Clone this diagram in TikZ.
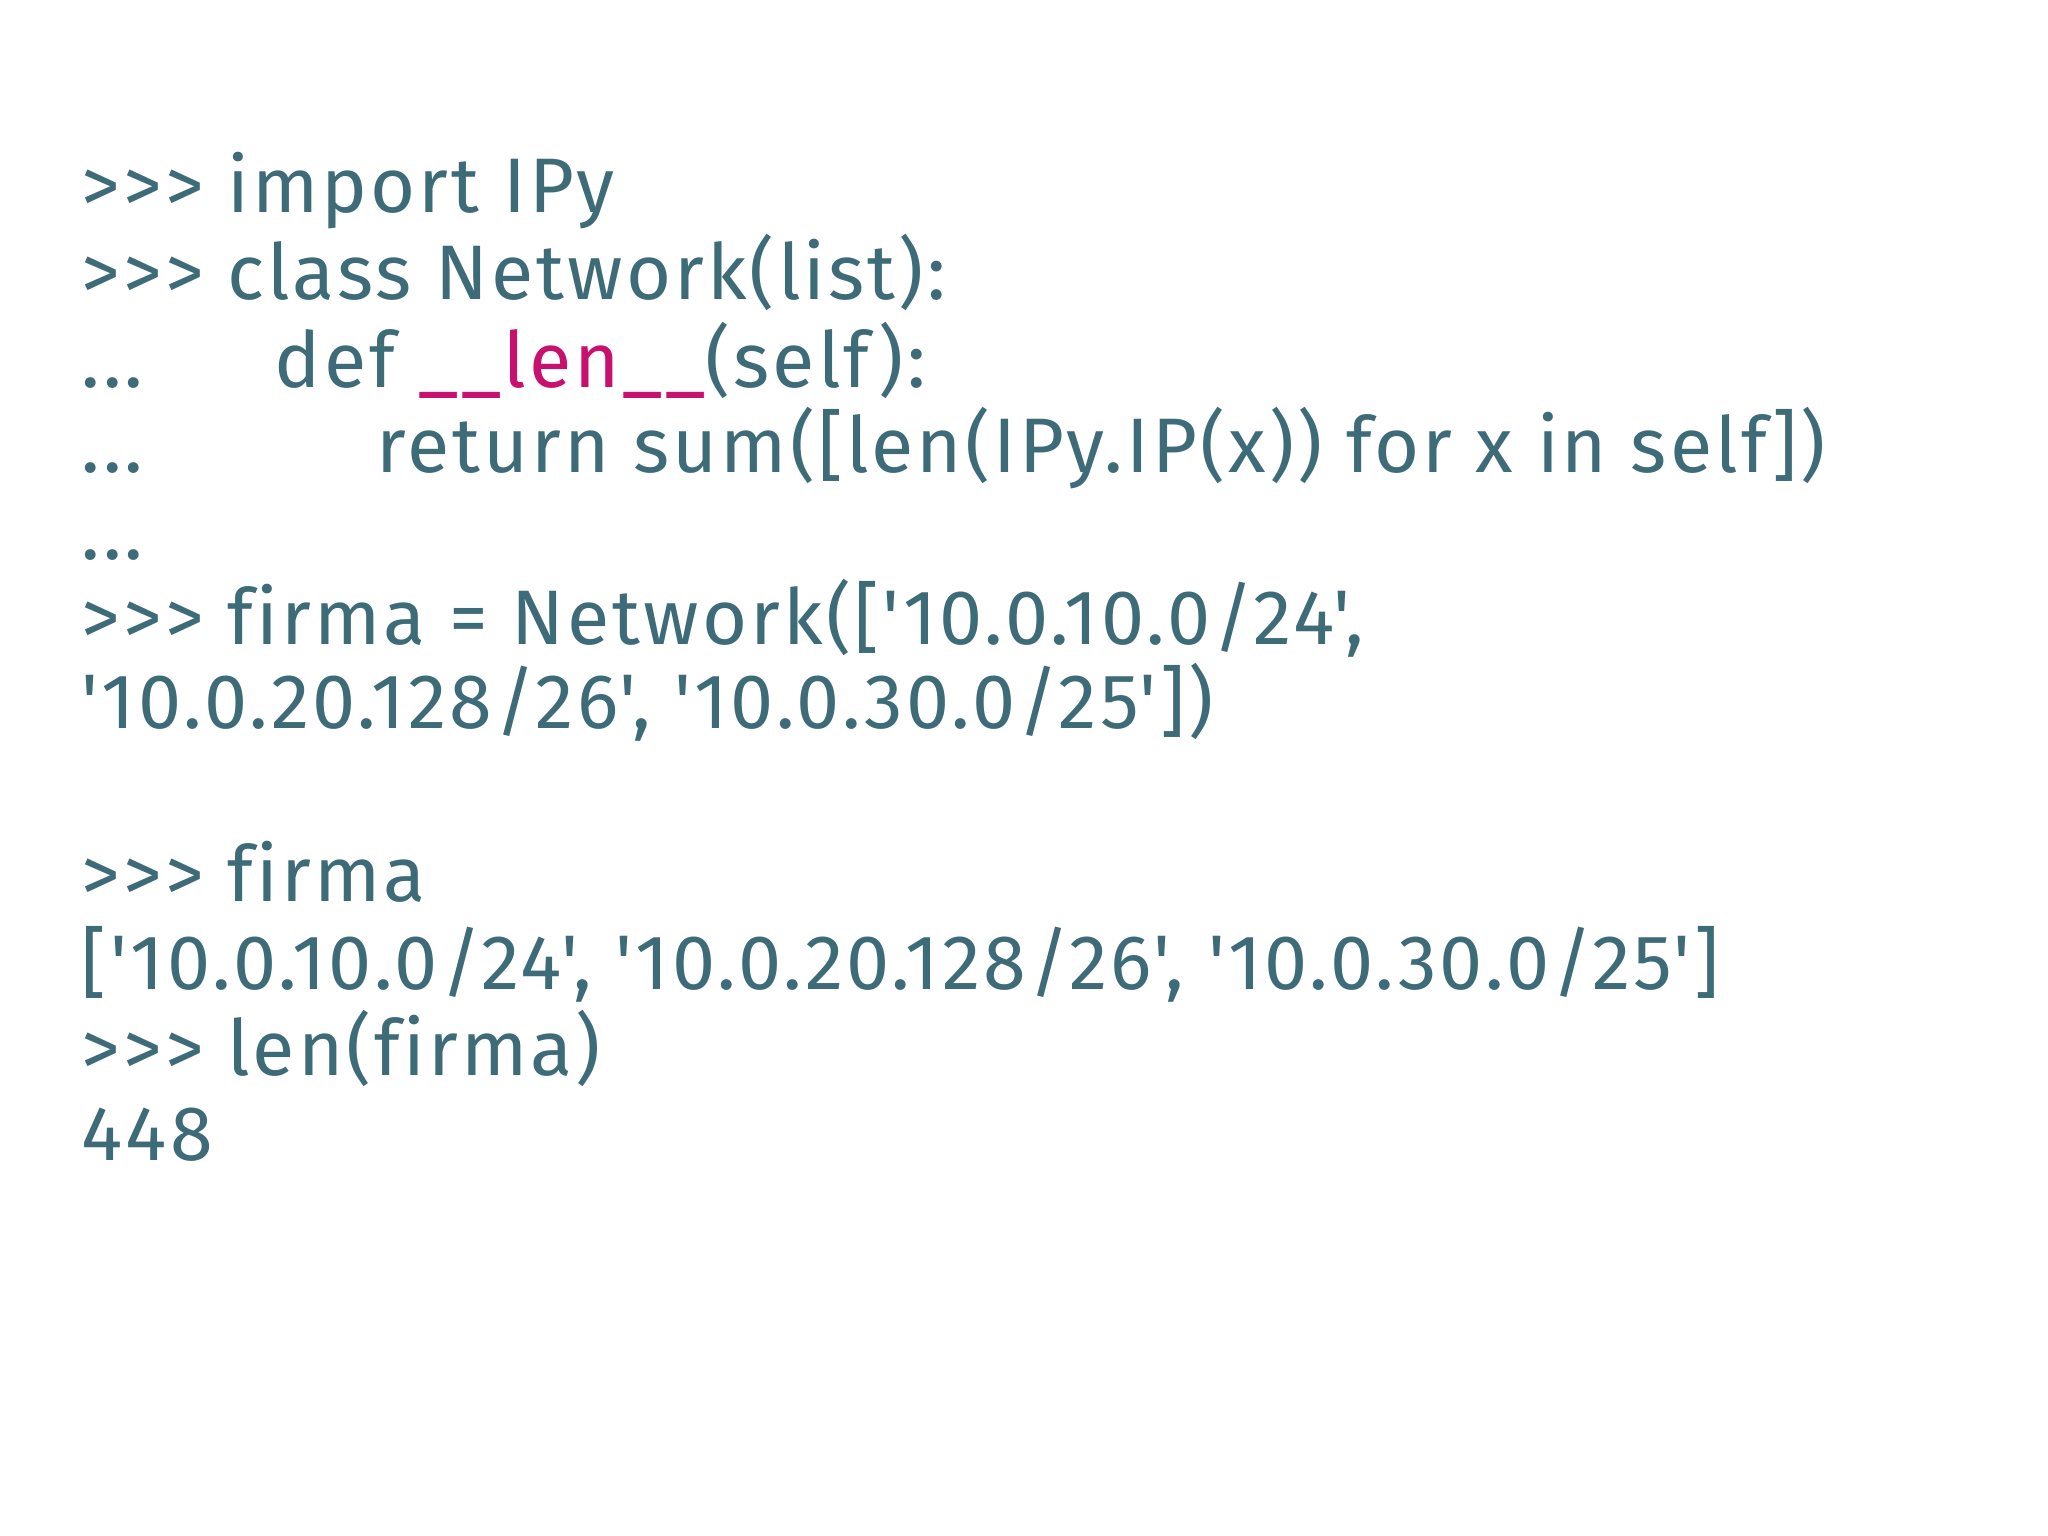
\documentclass[tikz,border=0pt]{standalone}
\usepackage{fontspec}
\setmainfont{Fira Sans}[Ligatures={TeXOff,CommonOff},LetterSpace=4]
\definecolor{codeteal}{HTML}{3E6B78}
\definecolor{codemag}{HTML}{C8106E}
\begin{document}
\begin{tikzpicture}[x=1cm,y=-1cm,
  codeline/.style={anchor=base west,inner sep=0pt,text=codeteal,font=\fontsize{22}{26}\selectfont}]
\useasboundingbox[fill=white] (0,0) rectangle (20.48,15.36);
\node[codeline] (l1) at (0.81,2.13) {>>> import IPy};
\node[codeline] (l2) at (0.81,3.00) {>>> class Network(list):};
\node[codeline] (l3a) at (0.81,3.88) {...};
\node[codeline] (l3) at (2.74,3.88) {def \textcolor{codemag}{\_\_len\_\_}(self):};
\node[codeline] (l4a) at (0.81,4.73) {...};
\node[codeline] (l4) at (3.76,4.73) {return sum([len(IPy.IP(x)) for x in self])};
\node[codeline] (l5) at (0.81,5.59) {...};
\node[codeline] (l6) at (0.81,6.44) {>>> firma = Network(['10.0.10.0/24',};
\node[codeline] (l7) at (0.81,7.29) {'10.0.20.128/26', '10.0.30.0/25'])};
\node[codeline] (l8) at (0.81,9.01) {>>> firma};
\node[codeline] (l9) at (0.81,9.89) {['10.0.10.0/24', '10.0.20.128/26', '10.0.30.0/25']};
\node[codeline] (l10) at (0.81,10.75) {>>> len(firma)};
\node[codeline] (l11) at (0.81,11.60) {448};
\end{tikzpicture}
\end{document}
